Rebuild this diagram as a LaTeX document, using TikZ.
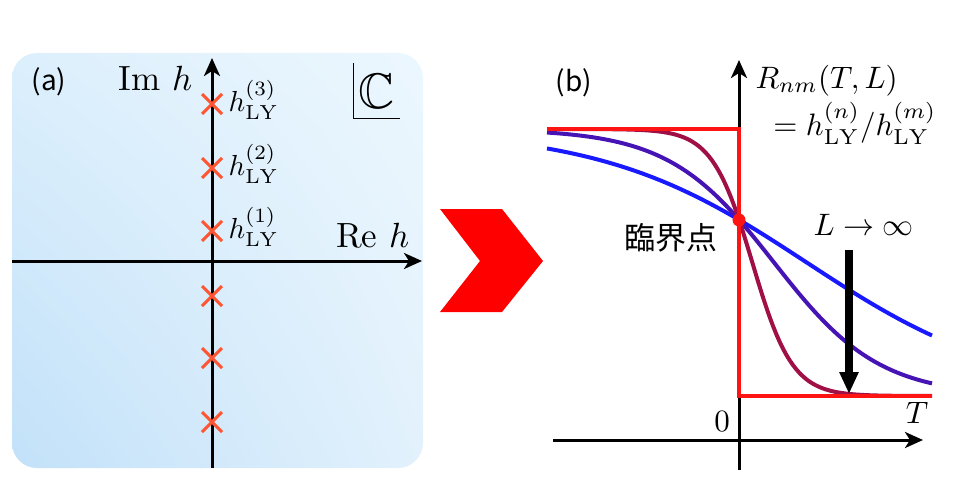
\RequirePackage{fix-cm}
\documentclass[tikz,border=0pt]{standalone}
\usepackage{amssymb}
\usepackage{amsmath}
\usepackage{fontspec}
\newfontfamily\jpfont{Noto Sans CJK JP}
\usetikzlibrary{arrows.meta,shapes.misc,shadings}
\definecolor{lyred}{RGB}{255,85,50}
\definecolor{stepred}{RGB}{255,20,20}
\definecolor{cblue}{RGB}{25,25,255}
\definecolor{cpurple}{RGB}{70,20,180}
\definecolor{cmaroon}{RGB}{160,16,70}
\definecolor{bgul}{RGB}{220,239,252}
\definecolor{bgur}{RGB}{236,247,254}
\definecolor{bgll}{RGB}{194,225,249}
\definecolor{bglr}{RGB}{226,241,252}

\begin{document}
\begin{tikzpicture}[x=1pt,y=-1pt,
  axis/.style={line width=3pt,-{Stealth[length=18pt,width=16pt,inset=5pt]}},
  ly/.style={cross out,draw=lyred,line width=3pt,inner sep=0pt,minimum size=17pt},
  axlabel/.style={scale=3.5,inner sep=0pt},
  lylabel/.style={scale=2.9,inner sep=0pt,anchor=base west},
  plotlabel/.style={scale=3.1,inner sep=0pt},
  jplabel/.style={font=\jpfont\fontsize{28}{32}\selectfont,inner sep=0pt},
  curve/.style={line width=4pt,domain=547:932,samples=120}]
\useasboundingbox (0,0) rectangle (960,503);

\shade[rounded corners=25pt,upper left=bgul,upper right=bgur,lower left=bgll,lower right=bglr] (12,53) rectangle (423,468);

\coordinate (ab) at (212,468);
\coordinate (at) at (212,58);
\coordinate (al) at (12,261);
\coordinate (ar) at (422,261);
\draw[axis] (ab)--(at);
\draw[axis] (al)--(ar);

\node[ly] (z1) at (212,231) {};
\node[ly] (z2) at (212,168) {};
\node[ly] (z3) at (212,104) {};
\node[ly] (z4) at (212,296) {};
\node[ly] (z5) at (212,358) {};
\node[ly] (z6) at (212,422) {};
\node[lylabel] (h1) at (228,238) {$h_{\mathrm{LY}}^{(1)}$};
\node[lylabel] (h2) at (228,175) {$h_{\mathrm{LY}}^{(2)}$};
\node[lylabel] (h3) at (228,111) {$h_{\mathrm{LY}}^{(3)}$};

\node[jplabel] (la) at (49,82) {(a)};
\node[axlabel,anchor=base east] (imh) at (193,90) {$\mathrm{Im}\ h$};
\node[axlabel,anchor=base east] (reh) at (410,247) {$\mathrm{Re}\ h$};
\node[scale=5,inner sep=0pt] (cc) at (377,91) {$\mathbb{C}$};
\coordinate (c1) at (353,63);
\coordinate (c2) at (353,118);
\coordinate (c3) at (400,118);
\draw[line width=1pt] (c1)--(c2)--(c3);

\fill[red] (440,209)--(502,209)--(543,261)--(502,312)--(440,312)--(480,261)--cycle;

\coordinate (bb) at (739,470);
\coordinate (bt) at (739,60);
\coordinate (bl) at (553,440);
\coordinate (br) at (923,440);
\draw[axis] (bb)--(bt);
\draw[axis] (bl)--(br);

\draw[curve,cblue] plot (\x,{129+267/(1+exp(min(9,-0.0098*(\x-806.7))))});
\draw[curve,cpurple] plot (\x,{129+267/(1+exp(min(9,-0.019*(\x-774))))});
\draw[curve,cmaroon] plot (\x,{129+267/(1+exp(min(9,-0.05*(\x-752.3))))});

\coordinate (s1) at (547,129);
\coordinate (s2) at (739,129);
\coordinate (s3) at (739,396);
\coordinate (s4) at (932,396);
\draw[stepred,line width=4.5pt] (s1)--(s2)--(s3)--(s4);
\node[circle,fill=stepred,inner sep=0pt,minimum size=13pt] (cp) at (739,220) {};

\node[jplabel] (lb) at (574,83) {(b)};
\node[plotlabel,anchor=base west] (rnm) at (755,88) {$R_{nm}(T,L)$};
\node[plotlabel,anchor=base east] (ratio) at (937,135) {$=h_{\mathrm{LY}}^{(n)}/h_{\mathrm{LY}}^{(m)}$};
\node[font=\jpfont\fontsize{31}{36}\selectfont,inner sep=0pt] (crit) at (671,238) {臨界点};
\node[plotlabel,anchor=base west] (linf) at (813,235) {$L\to\infty$};
\node[plotlabel] (zero) at (722,422) {$0$};
\node[plotlabel] (tl) at (917,413) {$T$};

\coordinate (dtop) at (849,250);
\coordinate (dend) at (849,394);
\draw[line width=8pt,-{Triangle[length=22pt,width=18pt]}] (dtop)--(dend);
\end{tikzpicture}
\end{document}
